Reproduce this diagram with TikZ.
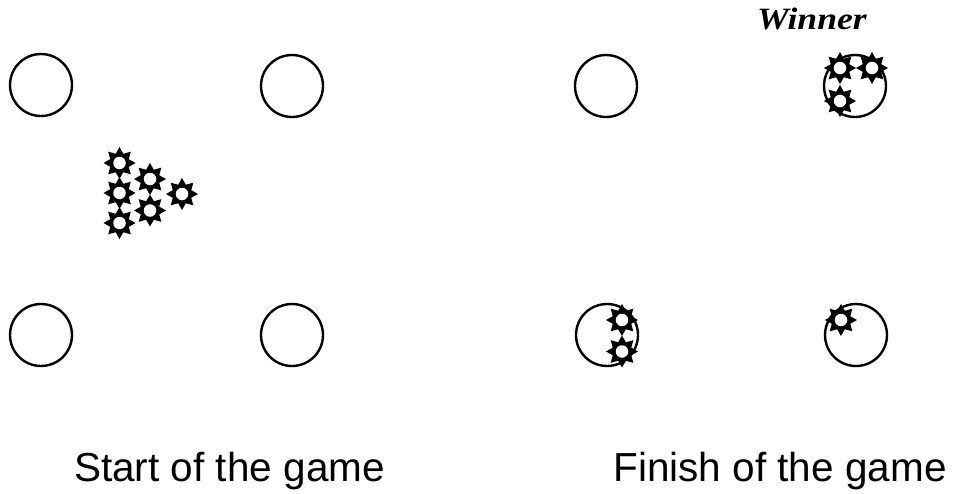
\documentclass[tikz,border=0pt]{standalone}
\usepackage{fontspec}
\setmainfont{Liberation Sans}
\newfontfamily\winfont{Liberation Serif}
\begin{document}
\begin{tikzpicture}[x=1pt,y=-1pt,
  hole/.style={circle,draw=none,fill=white,minimum size=12.5pt,inner sep=0pt},
  hoop/.style={circle,draw=black,line width=2.4pt,minimum size=62pt,inner sep=0pt},
  caption/.style={anchor=base,font=\fontsize{40.5}{48}\selectfont,inner sep=0pt},
  token/.pic={
    \fill[black] (90:16) -- (112.5:10) -- (135:16) -- (157.5:10) -- (180:16)
      -- (202.5:10) -- (225:16) -- (247.5:10) -- (270:16) -- (292.5:10)
      -- (315:16) -- (337.5:10) -- (0:16) -- (22.5:10) -- (45:16)
      -- (67.5:10) -- cycle;
    \node[hole] (-h) {};
  }]
\useasboundingbox (0,0) rectangle (955,493);
% start of the game
\node[hoop] (s1) at (41,85) {};
\node[hoop] (s2) at (292,86) {};
\node[hoop] (s3) at (41,335) {};
\node[hoop] (s4) at (292,335) {};
\pic (a1) at (119.5,163) {token};
\pic (a2) at (119.5,193) {token};
\pic (a3) at (119.5,223) {token};
\pic (a4) at (150,179) {token};
\pic (a5) at (150,210.5) {token};
\pic (a6) at (182,194) {token};
% finish of the game
\node[hoop] (f1) at (606,86) {};
\node[hoop] (f2) at (855,86) {};
\node[hoop] (f3) at (607,335) {};
\node[hoop] (f4) at (856,335) {};
\pic (b1) at (840,68) {token};
\pic (b2) at (872,68) {token};
\pic (b3) at (840,101) {token};
\pic (c1) at (622,320) {token};
\pic (c2) at (622,351.5) {token};
\pic (d1) at (841,320) {token};
% labels
\node[anchor=base,inner sep=0pt,xscale=1.15,font=\winfont\bfseries\itshape\fontsize{31}{36}\selectfont] (win) at (812,29) {Winner};
\node[caption] (cs) at (229.5,481.7) {Start of the game};
\node[caption] (cf) at (780,481.7) {Finish of the game};
\end{tikzpicture}
\end{document}
